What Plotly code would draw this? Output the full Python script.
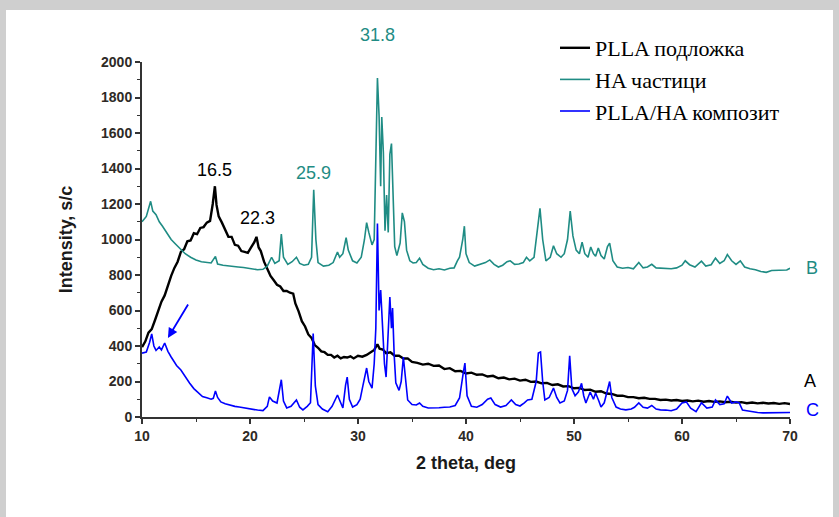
import plotly.graph_objects as go

# --- HA particles (curve B) ---
ha_x = [10.0, 10.4, 10.8, 11.0, 11.3, 11.6, 11.9, 12.3, 12.7, 13.1, 13.6, 14.0, 14.5, 15.0, 15.5, 15.9,
        16.4, 16.8, 17.0, 17.5, 18.0, 18.5, 18.9, 19.4, 19.8, 20.3, 20.7, 21.2, 21.6, 22.0, 22.3, 22.7,
        22.9, 23.1, 23.5, 23.9, 24.3, 24.6, 25.0, 25.4, 25.7, 25.9, 26.1, 26.3, 26.8, 27.3, 27.7, 28.1,
        28.3, 28.6, 28.9, 29.1, 29.5, 29.9, 30.3, 30.6, 30.8, 31.0, 31.3, 31.5, 31.65, 31.8, 31.95, 32.1,
        32.2, 32.35, 32.5, 32.65, 32.8, 32.95, 33.1, 33.25, 33.4, 33.6, 33.9, 34.1, 34.3, 34.5, 34.8, 35.1,
        35.4, 35.7, 36.0, 36.5, 37.0, 37.5, 38.0, 38.5, 38.9, 39.2, 39.4, 39.7, 39.85, 40.0, 40.3, 40.8,
        41.3, 41.8, 42.2, 42.6, 43.0, 43.4, 43.8, 44.1, 44.5, 44.9, 45.3, 45.6, 45.9, 46.3, 46.6, 46.85,
        47.1, 47.4, 47.8, 48.1, 48.4, 48.8, 49.1, 49.4, 49.65, 49.9, 50.2, 50.5, 50.75, 51.0, 51.3, 51.55,
        51.8, 52.0, 52.25, 52.5, 52.8, 53.1, 53.3, 53.6, 54.0, 54.5, 55.0, 55.5, 56.0, 56.4, 56.8, 57.2,
        57.6, 58.0, 58.5, 59.0, 59.5, 60.0, 60.3, 60.7, 61.2, 61.8, 62.2, 62.7, 63.1, 63.5, 63.9, 64.2,
        64.6, 65.0, 65.4, 65.8, 66.3, 66.8, 67.3, 67.8, 68.3, 68.8, 69.3, 69.7, 70.0]
ha_y = [1100, 1130, 1215, 1160, 1140, 1100, 1075, 1040, 1000, 975, 945, 920, 900, 885, 875, 872,
        868, 905, 862, 855, 850, 846, 845, 842, 838, 835, 830, 832, 850, 900, 865, 880,
        1030, 900, 860, 875, 900, 865, 855, 860, 900, 1280, 1000, 870, 850, 855, 870, 930,
        900, 920, 1010, 940, 880, 868, 900, 1000, 1095, 1040, 970, 1000, 1590, 1910, 1700, 1300,
        1690, 1490, 1050, 1250, 1040, 1480, 1540, 1200, 960, 910, 980, 1150, 1100, 940, 880, 868,
        870, 895, 860, 838, 830, 835, 828, 838, 840, 880, 900, 1000, 1075, 920, 870, 850,
        858, 870, 885, 860, 845, 855, 875, 880, 860, 862, 870, 900, 880, 900, 1050, 1175,
        1000, 880, 900, 965, 920, 900, 920, 1000, 1160, 1020, 940, 920, 985, 920, 900, 958,
        920, 905, 952, 910, 890, 960, 980, 880, 845, 838, 842, 835, 870, 840, 845, 860,
        840, 838, 835, 835, 840, 855, 880, 858, 845, 878, 850, 858, 895, 865, 880, 915,
        880, 860, 880, 845, 835, 830, 820, 815, 825, 825, 825, 828, 838]

# --- PLLA substrate (curve A) ---
plla_x = [10.0, 10.3, 10.6, 10.9, 11.2, 11.5, 11.8, 12.1, 12.4, 12.7, 13.0, 13.3, 13.6, 13.9, 14.2, 14.5,
          14.8, 15.1, 15.4, 15.7, 16.0, 16.3, 16.55, 16.75, 16.9, 17.1, 17.4, 17.7, 18.0, 18.3, 18.6, 18.9,
          19.2, 19.5, 19.8, 20.1, 20.4, 20.6, 20.8, 21.0, 21.3, 21.6, 21.9, 22.2, 22.5, 22.8, 23.1, 23.4,
          23.7, 24.0, 24.2, 24.5, 24.8, 25.1, 25.4, 25.7, 26.0, 26.3, 26.6, 26.9, 27.2, 27.5, 27.8, 28.1,
          28.4, 28.7, 29.0, 29.3, 29.6, 30.0, 30.4, 30.8, 31.2, 31.5, 31.8, 32.0, 32.3, 32.6, 33.0, 33.4,
          33.8, 34.2, 34.6, 35.0, 35.5, 36.0, 36.5, 37.0, 37.5, 38.0, 38.5, 39.0, 39.5, 40.0, 40.5, 41.0,
          41.5, 42.0, 42.5, 43.0, 43.5, 44.0, 44.5, 45.0, 45.5, 46.0, 46.5, 47.0, 47.5, 48.0, 48.5, 49.0,
          49.5, 50.0, 50.5, 51.0, 51.5, 52.0, 52.5, 53.0, 53.5, 54.0, 54.5, 55.0, 55.5, 56.0, 56.5, 57.0,
          57.5, 58.0, 58.5, 59.0, 59.5, 60.0, 60.5, 61.0, 61.5, 62.0, 62.5, 63.0, 63.5, 64.0, 64.5, 65.0,
          65.5, 66.0, 66.5, 67.0, 67.5, 68.0, 68.5, 69.0, 69.5, 70.0]
plla_y = [394, 425, 475, 495, 545, 595, 650, 685, 745, 795, 840, 875, 930, 945, 990, 995,
          1035, 1030, 1065, 1070, 1095, 1105, 1200, 1300, 1195, 1130, 1095, 1055, 1015, 1015, 970, 965,
          935, 930, 925, 955, 985, 1015, 955, 935, 875, 835, 795, 770, 745, 735, 710, 710,
          700, 695, 640, 595, 540, 510, 465, 445, 405, 390, 370, 365, 350, 350, 335, 345,
          330, 338, 335, 342, 330, 345, 340, 350, 365, 378, 410, 385, 380, 360, 365, 345,
          345, 330, 330, 310, 305, 295, 300, 288, 290, 270, 275, 258, 260, 245, 250, 238,
          240, 228, 232, 218, 222, 212, 216, 205, 210, 198, 200, 190, 192, 180, 184, 172,
          174, 162, 164, 152, 154, 142, 145, 132, 130, 120, 120, 112, 112, 106, 108, 102,
          102, 96, 98, 93, 96, 90, 93, 88, 92, 86, 90, 85, 88, 83, 86, 81,
          84, 78, 82, 77, 80, 76, 79, 74, 78, 73]

# --- PLLA/HA composite (curve C) ---
comp_x = [10.0, 10.4, 10.7, 10.9, 11.1, 11.3, 11.6, 11.8, 12.1, 12.4, 12.7, 12.9, 13.2, 13.6, 14.0, 14.4,
          14.8, 15.2, 15.6, 16.0, 16.4, 16.6, 16.8, 17.0, 17.3, 17.7, 18.2, 18.6, 19.0, 19.4, 19.8, 20.3,
          20.7, 21.2, 21.6, 21.8, 22.1, 22.5, 22.9, 23.1, 23.4, 23.8, 24.3, 24.6, 24.9, 25.3, 25.6, 25.85,
          26.05, 26.3, 26.7, 27.2, 27.6, 28.1, 28.4, 28.6, 28.85, 29.0, 29.2, 29.5, 29.9, 30.2, 30.45, 30.8,
          31.0, 31.3, 31.5, 31.65, 31.8, 31.95, 32.1, 32.25, 32.45, 32.6, 32.75, 32.95, 33.1, 33.2, 33.35, 33.5,
          33.8, 34.0, 34.2, 34.4, 34.6, 35.0, 35.4, 35.7, 36.0, 36.5, 37.0, 37.5, 38.0, 38.5, 39.0, 39.4,
          39.75, 39.9, 40.1, 40.5, 41.0, 41.5, 42.0, 42.3, 42.7, 43.2, 43.7, 44.2, 44.6, 45.0, 45.4, 45.7,
          46.1, 46.5, 46.7, 46.9, 47.1, 47.3, 47.7, 48.1, 48.4, 48.7, 49.1, 49.4, 49.6, 49.8, 50.1, 50.4,
          50.7, 50.9, 51.1, 51.3, 51.5, 51.8, 52.0, 52.3, 52.5, 52.8, 53.1, 53.3, 53.5, 53.9, 54.3, 54.8,
          55.3, 55.6, 56.0, 56.4, 56.8, 57.2, 57.6, 58.0, 58.5, 59.0, 59.5, 60.0, 60.4, 60.8, 61.3, 61.8,
          62.3, 62.8, 63.1, 63.5, 63.9, 64.2, 64.6, 65.0, 65.3, 65.6, 66.0, 66.5, 67.0, 67.5, 68.0, 68.5,
          69.0, 69.5, 70.0]
comp_y = [360, 366, 420, 468, 400, 375, 394, 378, 417, 370, 338, 321, 290, 265, 225, 192,
          160, 135, 115, 108, 100, 105, 146, 110, 85, 75, 65, 60, 56, 52, 45, 40,
          39, 36, 60, 113, 90, 79, 210, 90, 51, 60, 96, 55, 40, 60, 80, 470,
          175, 70, 45, 30, 60, 124, 80, 51, 180, 225, 100, 56, 70, 100, 175, 276,
          200, 163, 300, 500, 1090, 600, 715, 507, 300, 225, 400, 676, 500, 614, 350, 192,
          150, 200, 338, 200, 96, 70, 68, 79, 60, 51, 50, 52, 55, 56, 65, 107,
          250, 304, 120, 60, 55, 70, 100, 107, 70, 56, 65, 96, 70, 62, 80, 96,
          100, 200, 360, 366, 200, 96, 110, 163, 110, 79, 90, 150, 345, 160, 120, 140,
          190, 120, 79, 110, 141, 100, 135, 90, 56, 80, 150, 200, 110, 56, 45, 40,
          45, 55, 79, 55, 50, 65, 45, 40, 39, 35, 45, 79, 85, 50, 30, 80,
          50, 56, 96, 70, 75, 118, 79, 85, 80, 39, 35, 28, 25, 23, 23, 25,
          24, 22, 25]

series_names = ["PLLA подложка", "HA частици", "PLLA/HA композит"]
series_colors = ["#000000", "#1f8c84", "#0000ff"]

# Peak positions that are labelled on the chart
peak_labels = ["16.5", "22.3", "25.9", "31.8"]
curve_tags = ["A", "B", "C"]

y_ticks = list(range(0, 2001, 200))
x_ticks = list(range(10, 71, 10))

fig = go.Figure()
fig.add_trace(go.Scatter(x=plla_x, y=plla_y, mode="lines", name=series_names[0],
                         line=dict(color=series_colors[0], width=2.4), legendgroup="a"))
fig.add_trace(go.Scatter(x=ha_x, y=ha_y, mode="lines", name=series_names[1],
                         line=dict(color=series_colors[1], width=1.6), legendgroup="b"))
fig.add_trace(go.Scatter(x=comp_x, y=comp_y, mode="lines", name=series_names[2],
                         line=dict(color=series_colors[2], width=1.6), legendgroup="c"))

# Layout geometry (pixels)
W, H = 839, 517
ML, MR, MT, MB = 142, 49, 62, 100
PW, PH = W - ML - MR, H - MT - MB


def px_x(p):
    return (p - ML) / PW


def px_y(p):
    return (H - MB - p) / PH


shapes = [
    # white card on a grey surround
    dict(type="rect", xref="paper", yref="paper", layer="below",
         x0=px_x(6), x1=px_x(833), y0=px_y(519), y1=px_y(10),
         fillcolor="#ffffff", line=dict(width=0)),
]

tick_font = dict(family="Arial, Liberation Sans, sans-serif", size=14, color="#2e2a26", weight="bold")
label_font = dict(family="Arial, Liberation Sans, sans-serif", size=18)

annotations = [
    dict(x=16.75, y=1392, text=peak_labels[0], font=dict(label_font, color="#000000")),
    dict(x=20.7, y=1121, text=peak_labels[1], font=dict(label_font, color="#000000")),
    dict(x=25.9, y=1375, text=peak_labels[2], font=dict(label_font, color=series_colors[1])),
]
for a in annotations:
    a.update(xref="x", yref="y", showarrow=False, xanchor="center", yanchor="middle")

# labels sitting outside the data window are placed in paper space
outer = [
    (377, 35, peak_labels[3], series_colors[1]),
    (812, 268, curve_tags[1], series_colors[1]),
    (810, 381, curve_tags[0], "#000000"),
    (812, 410, curve_tags[2], series_colors[2]),
]
for px, py, txt, col in outer:
    annotations.append(dict(x=px_x(px), y=px_y(py), xref="paper", yref="paper", text=txt,
                            showarrow=False, xanchor="center", yanchor="middle",
                            font=dict(label_font, color=col)))

# arrow pointing at the amorphous PLLA hump in the composite
annotations.append(dict(x=12.4, y=445, ax=14.35, ay=642, xref="x", yref="y", axref="x", ayref="y",
                        text="", showarrow=True, arrowhead=2, arrowsize=1.1, arrowwidth=1.8,
                        arrowcolor=series_colors[2]))

fig.update_layout(
    width=W, height=H,
    margin=dict(l=ML, r=MR, t=MT, b=MB, pad=0),
    paper_bgcolor="#cfcfcf",
    plot_bgcolor="rgba(0,0,0,0)",
    shapes=shapes,
    annotations=annotations,
    legend=dict(x=px_x(555), y=px_y(27), xanchor="left", yanchor="top",
                bgcolor="rgba(0,0,0,0)", tracegroupgap=0,
                font=dict(family="Liberation Serif", size=22, color="#000000")),
    showlegend=True,
)

axis_title_font = dict(family="Arial, Liberation Sans, sans-serif", size=18, color="#1a1a1a", weight="bold")

fig.update_xaxes(range=[10, 70], tickvals=x_ticks, showgrid=False, zeroline=False,
                 showline=True, linecolor="#333333", linewidth=2,
                 ticks="outside", ticklen=5, tickwidth=1.5, tickcolor="#333333",
                 minor=dict(ticks="outside", ticklen=3, dtick=5, tickcolor="#333333", tickwidth=1.2),
                 tickfont=tick_font,
                 title=dict(text="2 theta, deg", standoff=14, font=axis_title_font))
fig.update_yaxes(range=[0, 2000], tickvals=y_ticks, showgrid=False, zeroline=False,
                 showline=True, linecolor="#333333", linewidth=2,
                 ticks="outside", ticklen=5, tickwidth=1.5, tickcolor="#333333",
                 minor=dict(ticks="outside", ticklen=3, dtick=100, tickcolor="#333333", tickwidth=1.2),
                 tickfont=tick_font,
                 title=dict(text="Intensity, s/c", standoff=24, font=axis_title_font))

fig.write_html("out.html")
